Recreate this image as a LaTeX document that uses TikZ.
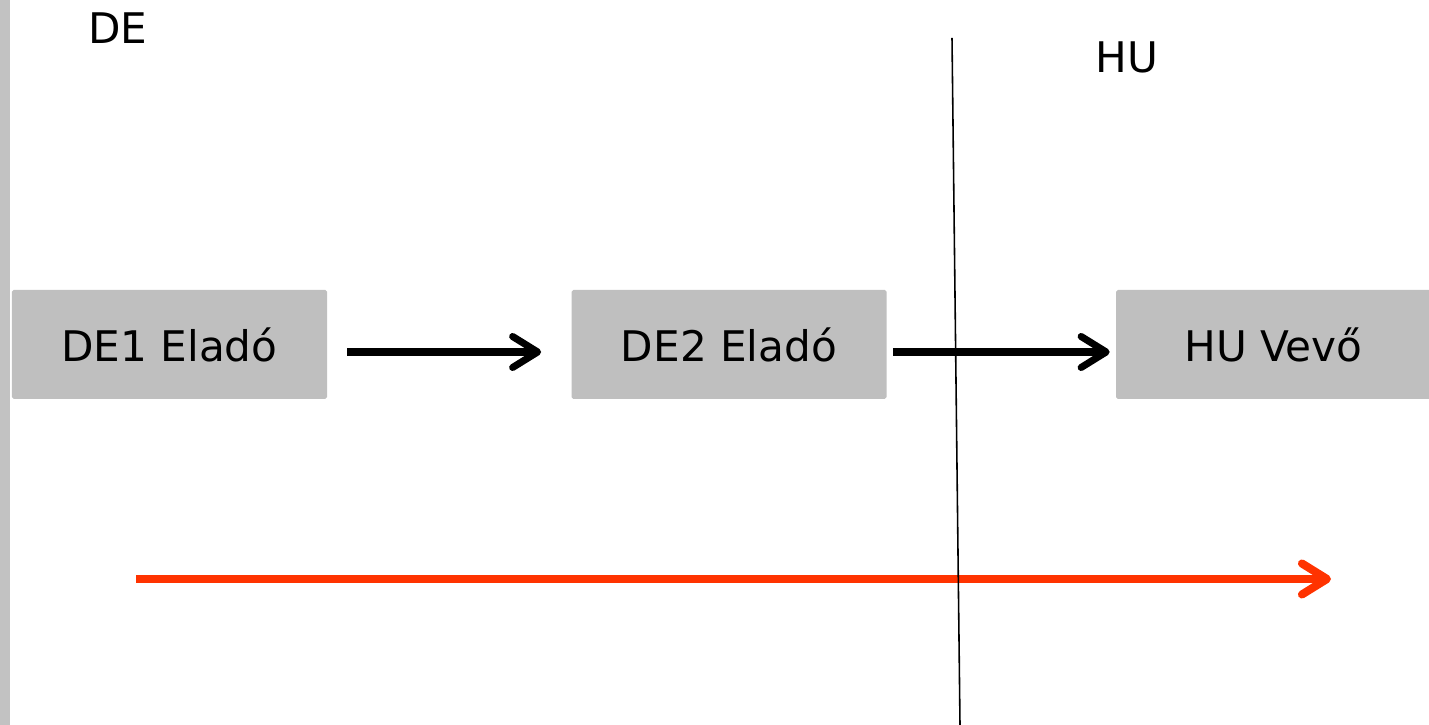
\documentclass[tikz,border=0pt]{standalone}
\usepackage{fontspec}
\setmainfont{DejaVu Sans}
\usetikzlibrary{arrows.meta}
\definecolor{boxgray}{HTML}{BFBFBF}
\definecolor{flowred}{HTML}{FF3300}
\tikzset{
    party/.style={fill=boxgray, rounded corners=1pt, minimum width=6.3cm, minimum height=2.18cm, font=\fontsize{24}{28}\selectfont},
    flow/.style={line width=4pt, -{Straight Barb[length=0.5cm, width=0.62cm, round]}},
    country/.style={font=\fontsize{24}{28}\selectfont}
}
\begin{document}
\begin{tikzpicture}
        \useasboundingbox (0,0) rectangle (28.58,14.5);
        \fill[boxgray!95!white] (0,0) rectangle (0.2,14.5);

        \node[country] (de) at (2.36, 13.94) {DE};
        \node[country] (hu) at (22.54, 13.36) {HU};

        \node[party] (de1) at (3.39, 7.61) {DE1 Eladó};
        \node[party] (de2) at (14.58, 7.61) {DE2 Eladó};
        \node[party] (huv) at (25.47, 7.61) {HU Vevő};

        % delivery chain
        \draw[flow, shorten <=0.4cm, shorten >=0.6cm] ([yshift=-0.15cm]de1.east) -- ([yshift=-0.15cm]de2.west);
        \draw[flow, shorten <=0.12cm, shorten >=0.12cm] ([yshift=-0.15cm]de2.east) -- ([yshift=-0.15cm]huv.west);

        % transport
        \coordinate (start) at (2.72, 2.92);
        \coordinate (finish) at (26.62, 2.92);
        \draw[flow, flowred, line width=4.6pt] (start) -- (finish);

        % border
        \coordinate (top) at (19.04, 13.74);
        \coordinate (bottom) at (19.2, 0);
        \draw[line width=0.9pt] (top) -- (bottom);
    \end{tikzpicture}
\end{document}
